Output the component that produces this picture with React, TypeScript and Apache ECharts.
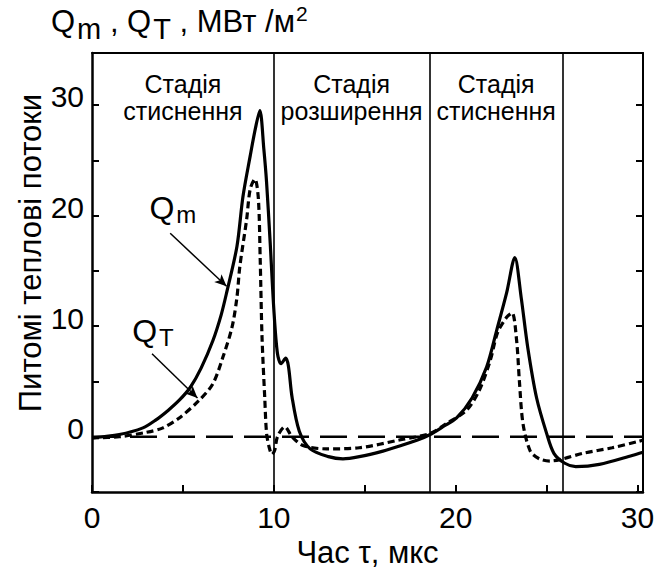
import React, { useEffect, useRef } from 'react';
import * as echarts from 'echarts';

const qmTime = [0, 1.5, 2.8, 3.5, 4.2, 4.8, 5.4, 6.0, 6.65, 7.1, 7.4, 7.97, 8.3, 8.7, 9.0, 9.23, 9.45, 9.6, 9.8, 10.0, 10.2, 10.4, 10.65, 10.8, 11.0, 11.4, 12.0, 13.0, 13.8, 14.7, 16.0, 17.0, 17.9, 18.6, 19.3, 20.05, 20.9, 21.7, 22.25, 22.8, 23.25, 23.6, 23.96, 24.45, 25.0, 25.4, 26.0, 26.6, 27.9, 29.7, 30.3];
const qmValues = [-0.1, 0.2, 0.8, 1.5, 2.4, 3.3, 4.45, 6.2, 8.7, 11.0, 13.0, 17.2, 21.7, 25.4, 28.0, 29.5, 26.0, 23.0, 17.5, 11.5, 7.5, 6.6, 7.1, 6.4, 3.6, 0.5, -1.1, -1.8, -2.0, -1.8, -1.3, -0.8, -0.3, 0.2, 0.9, 1.7, 3.5, 6.3, 9.6, 13.0, 16.2, 12.6, 8.1, 3.5, 0.3, -1.5, -2.4, -2.7, -2.5, -1.7, -1.4];

const qtTime = [0, 1.5, 3.0, 3.9, 4.8, 5.9, 6.65, 7.2, 7.7, 7.97, 8.13, 8.5, 8.7, 8.96, 9.15, 9.25, 9.35, 9.5, 9.6, 9.75, 9.9, 10.05, 10.2, 10.6, 11.0, 11.6, 12.9, 14.7, 16.9, 18.6, 19.5, 20.6, 21.3, 21.9, 22.3, 22.8, 23.1, 23.35, 23.5, 23.7, 24.1, 24.6, 25.2, 25.9, 27.0, 28.6, 30.1, 30.3];
const qtValues = [-0.1, 0.0, 0.4, 0.8, 1.7, 3.3, 4.8, 7.2, 9.9, 12.6, 15.4, 19.6, 22.4, 23.3, 21.5, 16.0, 9.0, 3.5, 0.3, -1.0, -1.6, -1.2, 0.0, 0.9, 0.0, -0.8, -1.1, -1.0, -0.3, 0.3, 1.2, 2.4, 4.2, 6.9, 9.4, 10.8, 11.2, 8.7, 5.1, 1.2, -1.3, -2.0, -2.2, -2.0, -1.5, -1.0, -0.4, -0.3];

const zeroLineX = [0, 30.3];
const zeroLineY = [0, 0];

const stageBounds = [0, 10, 18.55, 25.9];
const stageNames = ['Стадія\nстиснення', 'Стадія\nрозширення', 'Стадія\nстиснення'];
const dividerLines = [10, 18.55, 25.9];
const xTickLabels = [0, 10, 20, 30];
const yTickLabels = [0, 10, 20, 30];

// annotation arrows (data coordinates): [startX, startY, endX, endY]
const qmArrow = [4.3, 18.4, 7.4, 13.6];
const qtArrow = [3.3, 7.5, 5.8, 3.5];
const qmLabelPos = [4.45, 20.7];
const qtLabelPos = [3.35, 9.6];

const FONT = '"Liberation Sans", Arial, sans-serif';

export default function App() {
  const ref = useRef<HTMLDivElement>(null);
  useEffect(() => {
    if (!ref.current) return;
    const chart = echarts.init(ref.current, null, { renderer: 'svg' });
    const xMin = 0, xMax = 30.3, yMin = -5, yMax = 34.7;
    const option: any = {
      animation: false,
      backgroundColor: '#fff',
      textStyle: { fontFamily: FONT, color: '#000' },
      grid: { left: 92, right: 19, top: 53, bottom: 82 },
      xAxis: [
        {
          type: 'value', min: xMin, max: xMax, interval: 5,
          name: 'Час τ, мкс', nameLocation: 'middle', nameGap: 41,
          nameTextStyle: { fontSize: 31, color: '#000', fontFamily: FONT },
          axisLine: { onZero: false, lineStyle: { color: '#000', width: 2.5 } },
          axisTick: { inside: true, length: 7, lineStyle: { color: '#000', width: 2 } },
          axisLabel: {
            fontSize: 30, color: '#000', margin: 10, fontFamily: FONT,
            showMaxLabel: false,
            formatter: (v: number) => (xTickLabels.includes(v) ? String(v) : ''),
          },
          splitLine: { show: false },
        },
        {
          type: 'value', min: xMin, max: xMax, position: 'top',
          axisLine: { show: true, onZero: false, lineStyle: { color: '#000', width: 2 } },
          axisTick: { show: false }, axisLabel: { show: false }, splitLine: { show: false },
        },
      ],
      yAxis: [
        {
          type: 'value', min: yMin, max: yMax, interval: 5,
          axisLine: { show: true, onZero: false, lineStyle: { color: '#000', width: 2.5 } },
          axisTick: { show: true, inside: true, length: 7, lineStyle: { color: '#000', width: 2 } },
          axisLabel: {
            fontSize: 30, color: '#000', margin: 8, fontFamily: FONT,
            verticalAlign: 'bottom', lineHeight: 16, showMaxLabel: false,
            formatter: (v: number) => (yTickLabels.includes(v) ? String(v) : ''),
          },
          splitLine: { show: false },
        },
        {
          type: 'value', min: yMin, max: yMax, interval: 5, position: 'right',
          axisLine: { show: true, onZero: false, lineStyle: { color: '#000', width: 2 } },
          axisTick: { show: true, inside: true, length: 7, lineStyle: { color: '#000', width: 2 } },
          axisLabel: { show: false }, splitLine: { show: false },
        },
      ],
      series: [
        {
          name: 'zero', type: 'line', showSymbol: false, silent: true,
          data: zeroLineX.map((t, i) => [t, zeroLineY[i]]),
          lineStyle: { color: '#000', width: 2.4, type: [27, 11] },
          z: 1,
        },
        {
          name: 'Qm', type: 'line', showSymbol: false, smooth: 0.3,
          data: qmTime.map((t, i) => [t, qmValues[i]]),
          lineStyle: { color: '#000', width: 3.2 },
          z: 3,
          markArea: {
            silent: true,
            itemStyle: { color: 'rgba(0,0,0,0)' },
            label: {
              show: true, position: 'insideTop', distance: 17,
              fontSize: 25, lineHeight: 27, color: '#000', fontFamily: FONT, align: 'center',
            },
            data: stageNames.map((name, i) => [
              { name, xAxis: stageBounds[i] },
              { xAxis: stageBounds[i + 1] },
            ]),
          },
          markLine: {
            silent: true, symbol: 'none', label: { show: false },
            lineStyle: { color: '#000', width: 1.6, type: 'solid' },
            data: dividerLines.map((x) => ({ xAxis: x })),
          },
        },
        {
          name: 'QT', type: 'line', showSymbol: false, smooth: 0.3,
          data: qtTime.map((t, i) => [t, qtValues[i]]),
          lineStyle: { color: '#000', width: 3.2, type: [7, 4] },
          z: 2,
          markLine: {
            silent: true, symbol: ['none', 'arrow'], symbolSize: [8, 12], label: { show: false },
            lineStyle: { color: '#000', width: 1.5, type: 'solid' },
            data: [
              [{ coord: [qmArrow[0], qmArrow[1]] }, { coord: [qmArrow[2], qmArrow[3]] }],
              [{ coord: [qtArrow[0], qtArrow[1]] }, { coord: [qtArrow[2], qtArrow[3]] }],
            ],
          },
          markPoint: {
            silent: true, symbol: 'circle', symbolSize: 1,
            itemStyle: { color: 'rgba(0,0,0,0)' },
            label: {
              show: true, position: 'inside', color: '#000', fontFamily: FONT,
              formatter: (p: any) => p.name,
              rich: {
                q: { fontSize: 32, color: '#000', fontFamily: FONT },
                s: { fontSize: 24, color: '#000', fontFamily: FONT, padding: [14, 0, 0, 2] },
              },
            },
            data: [
              { name: '{q|Q}{s|m}', coord: qmLabelPos },
              { name: '{q|Q}{s|T}', coord: qtLabelPos },
            ],
          },
        },
      ],
      graphic: [
        {
          type: 'text', left: 51, top: 3,
          style: {
            text: '{b|Q}{s|m}{b| , Q}{s|T}{b| , МВт /м}{p|2}',
            fill: '#000',
            rich: {
              b: { fontSize: 31, fill: '#000', fontFamily: FONT },
              s: { fontSize: 29, fill: '#000', fontFamily: FONT, padding: [14, 0, 0, 2] },
              p: { fontSize: 21, fill: '#000', fontFamily: FONT, padding: [0, 0, 16, 1] },
            },
          },
        },
        {
          type: 'text', x: 30, y: 253, rotation: Math.PI / 2,
          style: {
            text: 'Питомі теплові потоки', fontSize: 31, fill: '#000', fontFamily: FONT,
            align: 'center', verticalAlign: 'middle',
          },
        },
      ],
    };
    chart.setOption(option);
    return () => chart.dispose();
  }, []);
  return <div ref={ref} style={{ width: 662, height: 574, position: 'absolute', left: 0, top: 0 }} />;
}
